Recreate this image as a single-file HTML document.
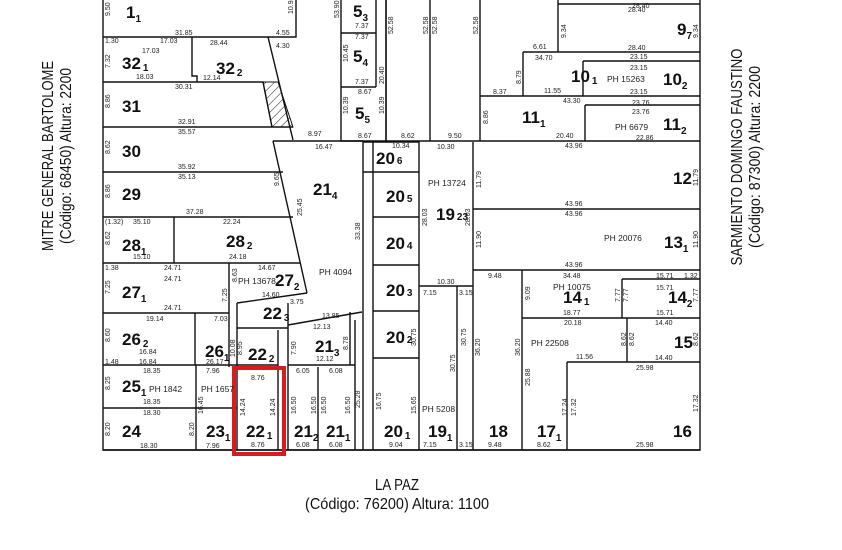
<!DOCTYPE html>
<html><head><meta charset="utf-8"><style>
html,body{margin:0;padding:0;background:#fff;}
svg{display:block;}
.l{stroke:#111;stroke-width:1.4;fill:none;}
.t{font-family:"Liberation Sans",sans-serif;fill:#111;}
.b{font-family:"Liberation Sans",sans-serif;font-weight:bold;font-size:17px;fill:#111;}
.d{font-family:"Liberation Sans",sans-serif;font-size:7px;fill:#222;}
.p{font-family:"Liberation Sans",sans-serif;font-size:8.5px;fill:#222;}
.s{font-size:10px;}
</style></head><body>
<svg width="842" height="550" viewBox="0 0 842 550" xmlns="http://www.w3.org/2000/svg">
<defs><pattern id="h" width="6" height="6" patternUnits="userSpaceOnUse" patternTransform="rotate(45)"><line x1="0" y1="0" x2="0" y2="6" stroke="#111" stroke-width="1"/></pattern></defs>
<path class="l" d="M103 0V450H700V0" stroke-width="2"/>
<line class="l" x1="103" y1="450" x2="700" y2="450" stroke-width="2.4"/>
<path class="l" d="M296 0V37H103"/>
<path class="l" d="M268 37L293 140"/>
<path class="l" d="M103 82H263L272 127"/>
<polygon points="263,82 278,82 293,127 272,127" fill="url(#h)" stroke="#111" stroke-width="1"/>
<path class="l" d="M103 127H293"/>
<path class="l" d="M273 141L307 293"/>
<path class="l" d="M103 172H283M103 217H293M103 263H300"/>
<path class="l" d="M192 37V76H197V82"/>
<path class="l" d="M174 217V263M229 263V367"/>
<path class="l" d="M103 313H229M237 303L307 293"/>
<path class="l" d="M237 303V450M103 365H278M195 313V365"/>
<path class="l" d="M237 328H288M288 303V450M103 408H237M196 365V450"/>
<path class="l" d="M233 367H285M278 330V450M288 325L362 312M288 365H355"/>
<path class="l" d="M318 367V450M355 320V450M350 312V365"/>
<path class="l" d="M273 141H363M363 141V450M373 142V450"/>
<path class="l" d="M341 0V141H386V0M341 33H376M341 87H376M376 0V87M341 141H386"/>
<path class="l" d="M386 141V0M430 0V141M480 0V141M386 141H700"/>
<path class="l" d="M363 142H419V450M373 172H419M373 217H419M373 265H419M373 311H419M373 358H419M363 172H373"/>
<path class="l" d="M419 286H473M457 286V450M473 142V450"/>
<path class="l" d="M473 209H700M473 270H700M522 270V450M622 279H700M622 279V318M522 318H700M567 362H700M627 318V362M567 362V450"/>
<path class="l" d="M558 0V52M558 4H700M523 52H700M523 52V96M583 61H700M583 61V96M480 96H700M585 105H700M585 105V141"/>
<rect x="234" y="368" width="50" height="86" fill="none" stroke="#d81c1c" stroke-width="4"/>
<g class="b">
<text x="126" y="18">1<tspan class="s" dy="4">1</tspan></text>
<text x="122" y="69">32<tspan class="s" dx="2" dy="2">1</tspan></text>
<text x="216" y="74">32<tspan class="s" dx="2" dy="2">2</tspan></text>
<text x="122" y="112">31</text>
<text x="122" y="157">30</text>
<text x="122" y="200">29</text>
<text x="122" y="251">28<tspan class="s" dy="4">1</tspan></text>
<text x="226" y="247">28<tspan class="s" dx="2" dy="2">2</tspan></text>
<text x="122" y="298">27<tspan class="s" dy="4">1</tspan></text>
<text x="275" y="286">27<tspan class="s" dy="4">2</tspan></text>
<text x="122" y="345">26<tspan class="s" dx="2" dy="2">2</tspan></text>
<text x="205" y="357">26<tspan class="s" dy="4">1</tspan></text>
<text x="122" y="392">25<tspan class="s" dy="4">1</tspan></text>
<text x="122" y="437">24</text>
<text x="206" y="437">23<tspan class="s" dy="4">1</tspan></text>
<text x="246" y="437">22<tspan class="s" dx="2" dy="2">1</tspan></text>
<text x="248" y="360">22<tspan class="s" dx="2" dy="2">2</tspan></text>
<text x="263" y="319">22<tspan class="s" dx="2" dy="2">3</tspan></text>
<text x="313" y="195">21<tspan class="s" dy="4">4</tspan></text>
<text x="315" y="352">21<tspan class="s" dy="4">3</tspan></text>
<text x="294" y="437">21<tspan class="s" dy="4">2</tspan></text>
<text x="326" y="437">21<tspan class="s" dy="4">1</tspan></text>
<text x="353" y="17">5<tspan class="s" dy="4">3</tspan></text>
<text x="353" y="62">5<tspan class="s" dy="4">4</tspan></text>
<text x="355" y="119">5<tspan class="s" dy="4">5</tspan></text>
<text x="376" y="164">20<tspan class="s" dx="2">6</tspan></text>
<text x="386" y="202">20<tspan class="s" dx="2">5</tspan></text>
<text x="386" y="249">20<tspan class="s" dx="2">4</tspan></text>
<text x="386" y="296">20<tspan class="s" dx="2">3</tspan></text>
<text x="386" y="343">20<tspan class="s" dx="2">2</tspan></text>
<text x="384" y="437">20<tspan class="s" dx="2" dy="2">1</tspan></text>
<text x="436" y="220">19<tspan class="s" dx="2">23</tspan></text>
<text x="428" y="437">19<tspan class="s" dy="4">1</tspan></text>
<text x="489" y="437">18</text>
<text x="537" y="437">17<tspan class="s" dy="4">1</tspan></text>
<text x="673" y="437">16</text>
<text x="674" y="348">15</text>
<text x="563" y="303">14<tspan class="s" dx="2" dy="2">1</tspan></text>
<text x="668" y="303">14<tspan class="s" dy="4">2</tspan></text>
<text x="664" y="248">13<tspan class="s" dy="4">1</tspan></text>
<text x="673" y="184">12</text>
<text x="677" y="35">9<tspan class="s" dy="4">7</tspan></text>
<text x="571" y="82">10<tspan class="s" dx="2" dy="2">1</tspan></text>
<text x="663" y="85">10<tspan class="s" dy="4">2</tspan></text>
<text x="522" y="123">11<tspan class="s" dy="4">1</tspan></text>
<text x="663" y="130">11<tspan class="s" dy="4">2</tspan></text>
</g>
<g class="p">
<text x="149" y="392">PH 1842</text>
<text x="201" y="392">PH 1657</text>
<text x="238" y="284">PH 13678</text>
<text x="319" y="275">PH 4094</text>
<text x="428" y="186">PH 13724</text>
<text x="422" y="412">PH 5208</text>
<text x="604" y="241">PH 20076</text>
<text x="553" y="290">PH 10075</text>
<text x="531" y="346">PH 22508</text>
<text x="607" y="82">PH 15263</text>
<text x="615" y="130">PH 6679</text>
</g>
<g class="d">
<text x="175" y="35">31.85</text><text x="276" y="35">4.55</text><text x="276" y="48">4.30</text>
<text x="105" y="43">1.30</text><text x="160" y="43">17.03</text><text x="210" y="45">28.44</text>
<text x="142" y="53">17.03</text><text x="136" y="79">18.03</text><text x="203" y="80">12.14</text>
<text x="175" y="89">30.31</text><text x="178" y="124">32.91</text><text x="178" y="134">35.57</text>
<text x="178" y="169">35.92</text><text x="178" y="179">35.13</text><text x="186" y="214">37.28</text>
<text x="105" y="224">(1.32)</text><text x="133" y="224">35.10</text><text x="223" y="224">22.24</text>
<text x="133" y="259">15.10</text><text x="229" y="259">24.18</text>
<text x="105" y="270">1.38</text><text x="164" y="270">24.71</text><text x="164" y="281">24.71</text><text x="164" y="310">24.71</text>
<text x="258" y="270">14.67</text><text x="262" y="297">14.60</text>
<text x="146" y="321">19.14</text><text x="214" y="321">7.03</text><text x="139" y="354">16.84</text>
<text x="105" y="364">1.48</text><text x="139" y="364">16.84</text><text x="206" y="364">26.17</text>
<text x="143" y="373">18.35</text><text x="143" y="404">18.35</text><text x="143" y="415">18.30</text><text x="140" y="448">18.30</text>
<text x="206" y="373">7.96</text><text x="206" y="448">7.96</text>
<text x="251" y="380">8.76</text><text x="251" y="447">8.76</text>
<text x="296" y="373">6.05</text><text x="329" y="373">6.08</text><text x="296" y="447">6.08</text><text x="329" y="447">6.08</text>
<text x="313" y="329">12.13</text><text x="316" y="361">12.12</text><text x="322" y="318">13.85</text><text x="290" y="304">3.75</text>
<text x="308" y="136">8.97</text><text x="315" y="149">16.47</text><text x="401" y="138">8.62</text><text x="448" y="138">9.50</text>
<text x="355" y="28">7.37</text><text x="355" y="39">7.37</text><text x="355" y="84">7.37</text><text x="358" y="94">8.67</text><text x="358" y="138">8.67</text>
<text x="392" y="148">10.34</text><text x="437" y="149">10.30</text><text x="437" y="284">10.30</text>
<text x="423" y="295">7.15</text><text x="459" y="295">3.15</text><text x="389" y="447">9.04</text><text x="423" y="447">7.15</text><text x="459" y="447">3.15</text>
<text x="488" y="278">9.48</text><text x="488" y="447">9.48</text><text x="537" y="447">8.62</text>
<text x="565" y="148">43.96</text><text x="565" y="206">43.96</text><text x="565" y="216">43.96</text><text x="565" y="267">43.96</text>
<text x="563" y="278">34.48</text><text x="656" y="278">15.71</text><text x="684" y="278">1.32</text>
<text x="656" y="290">15.71</text><text x="656" y="315">15.71</text><text x="563" y="315">18.77</text>
<text x="564" y="325">20.18</text><text x="655" y="325">14.40</text><text x="655" y="360">14.40</text>
<text x="576" y="359">11.56</text><text x="636" y="370">25.98</text><text x="636" y="447">25.98</text>
<text x="556" y="138">20.40</text><text x="636" y="140">22.86</text><text x="563" y="103">43.30</text>
<text x="493" y="94">8.37</text><text x="544" y="93">11.55</text><text x="535" y="60">34.70</text><text x="533" y="49">6.61</text>
<text x="628" y="12">28.40</text><text x="628" y="50">28.40</text><text x="630" y="59">23.15</text><text x="630" y="70">23.15</text><text x="630" y="94">23.15</text>
<text x="632" y="105">23.76</text><text x="632" y="114">23.76</text><text x="632" y="8">28.40</text>
</g>
<g class="d">
<text transform="translate(110,16) rotate(-90)">9.50</text>
<text transform="translate(293,14) rotate(-90)">10.94</text>
<text transform="translate(110,68) rotate(-90)">7.32</text>
<text transform="translate(110,108) rotate(-90)">8.86</text>
<text transform="translate(110,154) rotate(-90)">8.62</text>
<text transform="translate(110,198) rotate(-90)">8.86</text>
<text transform="translate(110,245) rotate(-90)">8.62</text>
<text transform="translate(110,294) rotate(-90)">7.25</text>
<text transform="translate(110,342) rotate(-90)">8.60</text>
<text transform="translate(110,390) rotate(-90)">8.25</text>
<text transform="translate(110,436) rotate(-90)">8.20</text>
<text transform="translate(194,436) rotate(-90)">8.20</text>
<text transform="translate(203,414) rotate(-90)">16.45</text>
<text transform="translate(245,416) rotate(-90)">14.24</text>
<text transform="translate(275,416) rotate(-90)">14.24</text>
<text transform="translate(296,414) rotate(-90)">16.50</text>
<text transform="translate(316,414) rotate(-90)">16.50</text>
<text transform="translate(326,414) rotate(-90)">16.50</text>
<text transform="translate(350,414) rotate(-90)">16.50</text>
<text transform="translate(360,408) rotate(-90)">25.28</text>
<text transform="translate(360,240) rotate(-90)">33.38</text>
<text transform="translate(296,355) rotate(-90)">7.90</text>
<text transform="translate(348,350) rotate(-90)">8.78</text>
<text transform="translate(235,357) rotate(-90)">10.08</text>
<text transform="translate(242,355) rotate(-90)">8.95</text>
<text transform="translate(227,302) rotate(-90)">7.25</text>
<text transform="translate(237,282) rotate(-90)">8.63</text>
<text transform="translate(279,186) rotate(-90)">9.65</text>
<text transform="translate(302,216) rotate(-90)">25.45</text>
<text transform="translate(339,18) rotate(-90)">53.90</text>
<text transform="translate(348,62) rotate(-90)">10.45</text>
<text transform="translate(348,114) rotate(-90)">10.39</text>
<text transform="translate(384,114) rotate(-90)">10.39</text>
<text transform="translate(384,84) rotate(-90)">20.40</text>
<text transform="translate(393,34) rotate(-90)">52.58</text>
<text transform="translate(428,34) rotate(-90)">52.58</text>
<text transform="translate(437,34) rotate(-90)">52.58</text>
<text transform="translate(478,34) rotate(-90)">52.58</text>
<text transform="translate(488,124) rotate(-90)">8.86</text>
<text transform="translate(521,84) rotate(-90)">8.79</text>
<text transform="translate(566,38) rotate(-90)">9.34</text>
<text transform="translate(698,38) rotate(-90)">9.34</text>
<text transform="translate(481,188) rotate(-90)">11.79</text>
<text transform="translate(698,186) rotate(-90)">11.79</text>
<text transform="translate(481,248) rotate(-90)">11.90</text>
<text transform="translate(698,248) rotate(-90)">11.90</text>
<text transform="translate(427,226) rotate(-90)">28.03</text>
<text transform="translate(470,226) rotate(-90)">28.03</text>
<text transform="translate(480,356) rotate(-90)">36.20</text>
<text transform="translate(520,356) rotate(-90)">36.20</text>
<text transform="translate(530,300) rotate(-90)">9.09</text>
<text transform="translate(530,386) rotate(-90)">25.88</text>
<text transform="translate(567,416) rotate(-90)">17.24</text>
<text transform="translate(576,416) rotate(-90)">17.32</text>
<text transform="translate(698,412) rotate(-90)">17.32</text>
<text transform="translate(698,346) rotate(-90)">8.62</text>
<text transform="translate(626,346) rotate(-90)">8.62</text>
<text transform="translate(634,346) rotate(-90)">8.62</text>
<text transform="translate(620,302) rotate(-90)">7.77</text>
<text transform="translate(628,302) rotate(-90)">7.77</text>
<text transform="translate(698,302) rotate(-90)">7.77</text>
<text transform="translate(416,346) rotate(-90)">30.75</text>
<text transform="translate(455,372) rotate(-90)">30.75</text>
<text transform="translate(466,346) rotate(-90)">30.75</text>
<text transform="translate(381,410) rotate(-90)">16.75</text>
<text transform="translate(416,414) rotate(-90)">15.65</text>
</g>
<text class="t" font-size="15.5" transform="translate(53,156) rotate(-90)" text-anchor="middle" textLength="190" lengthAdjust="spacingAndGlyphs">MITRE GENERAL BARTOLOME</text>
<text class="t" font-size="15.5" transform="translate(71,156) rotate(-90)" text-anchor="middle" textLength="176" lengthAdjust="spacingAndGlyphs">(Código: 68450) Altura: 2200</text>
<text class="t" font-size="15.5" transform="translate(742,157) rotate(-90)" text-anchor="middle" textLength="217" lengthAdjust="spacingAndGlyphs">SARMIENTO DOMINGO FAUSTINO</text>
<text class="t" font-size="15.5" transform="translate(760,157) rotate(-90)" text-anchor="middle" textLength="182" lengthAdjust="spacingAndGlyphs">(Código: 87300) Altura: 2200</text>
<text class="t" font-size="16" x="397" y="490" text-anchor="middle" textLength="44" lengthAdjust="spacingAndGlyphs">LA PAZ</text>
<text class="t" font-size="16" x="397" y="509" text-anchor="middle" textLength="184" lengthAdjust="spacingAndGlyphs">(Código: 76200) Altura: 1100</text>
</svg>
</body></html>
